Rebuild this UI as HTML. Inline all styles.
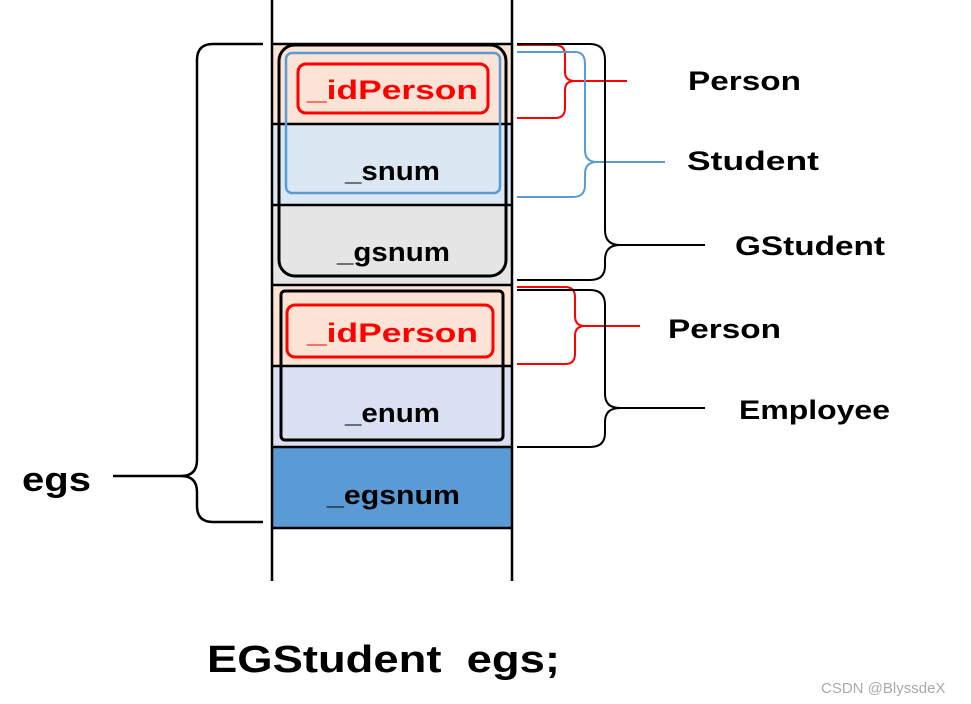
<!DOCTYPE html>
<html><head><meta charset="utf-8"><style>html,body{margin:0;padding:0;background:#fff;}svg{display:block}</style></head><body>
<svg width="971" height="704" viewBox="0 0 971 704" xmlns="http://www.w3.org/2000/svg" font-family="'Liberation Sans', 'Noto Sans CJK SC', sans-serif" font-weight="bold">
<rect x="272" y="44" width="240" height="80" fill="#fbe3d6"/>
<rect x="272" y="124" width="240" height="81" fill="#dbe8f4"/>
<rect x="272" y="205" width="240" height="80" fill="#e5e5e5"/>
<rect x="272" y="285" width="240" height="81" fill="#fbe3d6"/>
<rect x="272" y="366" width="240" height="81" fill="#d9e0f1"/>
<rect x="272" y="447" width="240" height="81" fill="#5b9bd5"/>
<g stroke="#000" stroke-width="2.5">
<line x1="272" y1="0" x2="272" y2="581"/><line x1="512" y1="0" x2="512" y2="581"/>
<line x1="272" y1="44" x2="512" y2="44"/><line x1="272" y1="124" x2="512" y2="124"/>
<line x1="272" y1="205" x2="512" y2="205"/><line x1="272" y1="285" x2="512" y2="285"/>
<line x1="272" y1="366" x2="512" y2="366"/><line x1="272" y1="447" x2="512" y2="447"/>
<line x1="272" y1="528" x2="512" y2="528"/>
</g>
<rect x="279" y="45" width="227" height="231" rx="16" fill="none" stroke="#000" stroke-width="3"/>
<rect x="286" y="53" width="214" height="140" rx="6" fill="none" stroke="#5b9bd5" stroke-width="2.5"/>
<rect x="298" y="64" width="190" height="49" rx="8" fill="none" stroke="#f00" stroke-width="3"/>
<rect x="281" y="291" width="222" height="149" rx="4" fill="none" stroke="#000" stroke-width="3"/>
<rect x="287" y="305" width="206" height="52" rx="8" fill="none" stroke="#f00" stroke-width="3"/>
<g font-size="27">
<text x="307" y="99" fill="#f00" textLength="171" lengthAdjust="spacingAndGlyphs">_idPerson</text>
<text x="345" y="180" fill="#000" textLength="95" lengthAdjust="spacingAndGlyphs">_snum</text>
<text x="337" y="261" fill="#000" textLength="113" lengthAdjust="spacingAndGlyphs">_gsnum</text>
<text x="307" y="342" fill="#f00" textLength="171" lengthAdjust="spacingAndGlyphs">_idPerson</text>
<text x="345" y="422" fill="#000" textLength="95" lengthAdjust="spacingAndGlyphs">_enum</text>
<text x="327" y="504" fill="#000" textLength="133" lengthAdjust="spacingAndGlyphs">_egsnum</text>
</g>
<g fill="none" stroke-width="2">
<path d="M517 45 H555 Q565 45 565 55 V72 Q565 81 575 81 H627 M575 81 Q565 81 565 90 V108 Q565 118 555 118 H517" stroke="#f00"/>
<path d="M517 52 H575 Q585 52 585 64 V150 Q585 162 597 162 H665 M597 162 Q585 162 585 174 V185 Q585 197 573 197 H517" stroke="#5b9bd5"/>
<path d="M517 44 H590 Q605 44 605 60 V230 Q605 245 620 245 H705 M620 245 Q605 245 605 260 V266 Q605 280 590 280 H517" stroke="#000"/>
<path d="M517 287 H565 Q575 287 575 297 V316 Q575 326 585 326 H640 M585 326 Q575 326 575 336 V354 Q575 364 565 364 H517" stroke="#f00"/>
<path d="M517 290 H590 Q605 290 605 305 V394 Q605 408 620 408 H705 M620 408 Q605 408 605 422 V433 Q605 447 590 447 H517" stroke="#000"/>
<path d="M263 44 H213 Q197 44 197 60 V460 Q197 476 181 476 H113 M181 476 Q197 476 197 492 V506 Q197 522 213 522 H263" stroke="#000" stroke-width="2.5"/>
</g>
<g font-size="27" fill="#000">
<text x="688" y="90" textLength="113" lengthAdjust="spacingAndGlyphs">Person</text>
<text x="687" y="170" textLength="132" lengthAdjust="spacingAndGlyphs">Student</text>
<text x="735" y="255" textLength="150" lengthAdjust="spacingAndGlyphs">GStudent</text>
<text x="668" y="338" textLength="113" lengthAdjust="spacingAndGlyphs">Person</text>
<text x="739" y="419" textLength="151" lengthAdjust="spacingAndGlyphs">Employee</text>
<text x="22" y="491" font-size="34" textLength="69" lengthAdjust="spacingAndGlyphs">egs</text>
<text x="207" y="672" font-size="38" textLength="353" lengthAdjust="spacingAndGlyphs" xml:space="preserve">EGStudent  egs;</text>
</g>
<text x="821" y="693" font-size="15" font-weight="normal" fill="#aaa">CSDN @BlyssdeX</text>
</svg>
</body></html>
